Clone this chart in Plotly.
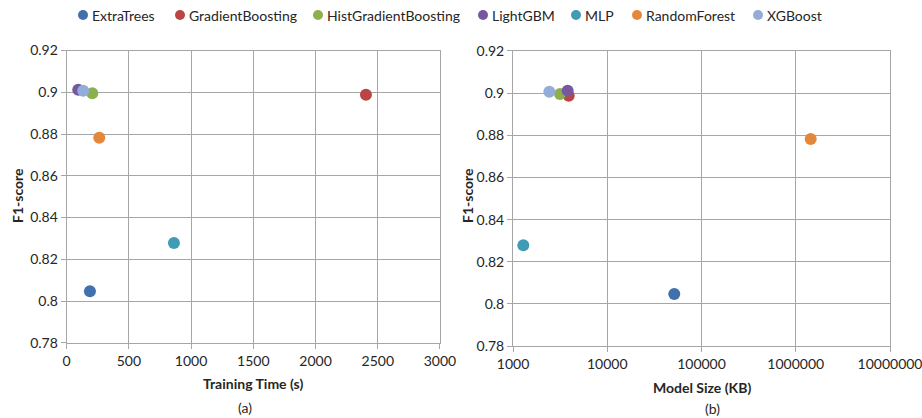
import plotly.graph_objects as go

models = ["ExtraTrees", "GradientBoosting", "HistGradientBoosting", "LightGBM", "MLP", "RandomForest", "XGBoost"]
colors = ["#4170AD", "#B94643", "#8DB04F", "#7758A0", "#3F9CB4", "#E5873B", "#93ACD8"]
f1_score = [0.8047, 0.8988, 0.8996, 0.9012, 0.8278, 0.8782, 0.9007]
training_time_s = [187, 2405, 206, 93, 862, 262, 133]
model_size_kb = [51400, 3900, 3150, 3800, 1286, 1440000, 2430]

x_ticks_a = [0, 500, 1000, 1500, 2000, 2500, 3000]
x_ticks_b = [1000, 10000, 100000, 1000000, 10000000]
y_ticks = [0.78, 0.80, 0.82, 0.84, 0.86, 0.88, 0.90, 0.92]
y_tick_labels = ["0.78", "0.8", "0.82", "0.84", "0.86", "0.88", "0.9", "0.92"]

FONT = "Lato, 'Open Sans', sans-serif"
GRID = "#A6A6A6"
TXT = "#262626"
W, H = 922, 418

fig = go.Figure()
for i, m in enumerate(models):
    fig.add_trace(go.Scatter(
        x=[training_time_s[i]], y=[f1_score[i]], mode="markers", name=m,
        marker=dict(color=colors[i], size=12, line=dict(width=0)),
        xaxis="x", yaxis="y", showlegend=False))
for i, m in enumerate(models):
    fig.add_trace(go.Scatter(
        x=[model_size_kb[i]], y=[f1_score[i]], mode="markers", name=m,
        marker=dict(color=colors[i], size=12, line=dict(width=0)),
        xaxis="x2", yaxis="y2", showlegend=False))

axis_common = dict(showgrid=True, gridcolor=GRID, gridwidth=1, showline=True, linecolor=GRID,
                   linewidth=1, ticks="outside", ticklen=5, tickcolor=GRID, zeroline=False,
                   automargin=False, mirror=True, ticklabeloverflow="allow",
                   tickfont=dict(family=FONT, size=14, color=TXT))

fig.update_layout(
    width=W, height=H,
    margin=dict(l=0, r=0, t=0, b=0, autoexpand=False),
    paper_bgcolor="white", plot_bgcolor="white",
    font=dict(family=FONT, size=14, color=TXT),
    showlegend=False,
    xaxis=dict(domain=[0.0723, 0.4772], range=[0, 3000], tickvals=x_ticks_a, anchor="y",
               **axis_common),
    yaxis=dict(domain=[0.180, 0.879], range=[0.78, 0.92], tickvals=y_ticks, ticktext=y_tick_labels,
               anchor="x", **axis_common),
    xaxis2=dict(domain=[0.5564, 0.9653], type="log", range=[3, 7], tickvals=x_ticks_b,
                ticktext=[str(v) for v in x_ticks_b], anchor="y2", **axis_common),
    yaxis2=dict(domain=[0.172, 0.878], range=[0.78, 0.92], tickvals=y_ticks, ticktext=y_tick_labels,
                anchor="x2", **axis_common),
)

# custom legend (layout positions in pixels)
legend_marker_x = [83, 180, 318, 483, 576, 637, 758]
legend_y = 15
for i, m in enumerate(models):
    cx = legend_marker_x[i]
    fig.add_shape(type="circle", xref="paper", yref="paper",
                  x0=(cx - 5) / W, x1=(cx + 5) / W, y0=1 - (legend_y + 5) / H, y1=1 - (legend_y - 5) / H,
                  fillcolor=colors[i], line=dict(width=0))
    fig.add_annotation(text=m, x=(cx + 7) / W, y=1 - legend_y / H, xref="paper", yref="paper",
                       showarrow=False, xanchor="left", yanchor="middle",
                       font=dict(family=FONT, size=14, color=TXT))

ann = [
    dict(text="<b>Training Time (s)</b>", x=253, y=383),
    dict(text="(a)", x=245, y=407),
    dict(text="<b>Model Size (KB)</b>", x=702, y=387),
    dict(text="(b)", x=712, y=408),
]
for a in ann:
    fig.add_annotation(text=a["text"], x=a["x"] / W, y=1 - a["y"] / H, xref="paper", yref="paper",
                       showarrow=False, xanchor="center", yanchor="middle",
                       font=dict(family=FONT, size=14, color=TXT))
for xp, yp in [(17, 196), (467, 196)]:
    fig.add_annotation(text="<b>F1-score</b>", x=xp / W, y=1 - yp / H, xref="paper", yref="paper",
                       showarrow=False, textangle=-90, xanchor="center", yanchor="middle",
                       font=dict(family=FONT, size=14, color=TXT))

fig.write_html("out.html", config={"displayModeBar": False},
               post_script="document.body.style.margin='0';document.body.style.overflow='hidden';")
